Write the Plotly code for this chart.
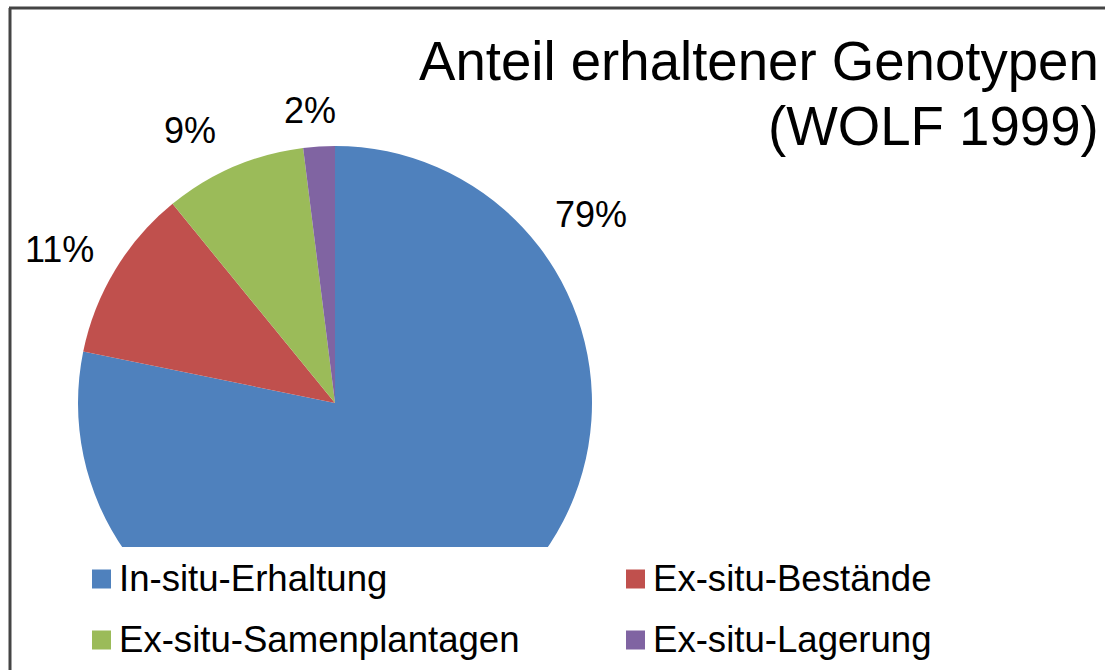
import plotly.graph_objects as go

W, H = 1105, 670

categories = ["In-situ-Erhaltung", "Ex-situ-Bestände", "Ex-situ-Samenplantagen", "Ex-situ-Lagerung"]
shares = [79, 11, 9, 2]
colors = ["#4F81BD", "#C0504D", "#9BBB59", "#8064A2"]
title_lines = ["Anteil erhaltener Genotypen", "(WOLF 1999)"]

FONT = "Liberation Sans, Arial, sans-serif"


def px(x):
    return x / W


def py(y):
    return 1 - y / H


fig = go.Figure()
fig.add_trace(go.Pie(
    labels=categories,
    values=shares,
    marker=dict(colors=colors, line=dict(width=0)),
    sort=False,
    direction="clockwise",
    rotation=0,
    textinfo="none",
    showlegend=False,
    hoverinfo="label+value",
    domain=dict(x=[px(78), px(592)], y=[py(660), py(146)]),
))

shapes = []
annotations = []

# white band hiding the lower part of the pie (legend area)
shapes.append(dict(type="rect", xref="paper", yref="paper", layer="above",
                   x0=0, x1=1, y0=0, y1=py(547),
                   fillcolor="white", line=dict(width=0)))
# frame (left and top edges)
shapes.append(dict(type="line", xref="paper", yref="paper", layer="above",
                   x0=px(10), x1=px(10), y0=0, y1=py(8),
                   line=dict(color="#444444", width=3)))
shapes.append(dict(type="line", xref="paper", yref="paper", layer="above",
                   x0=px(9), x1=1, y0=py(8), y1=py(8),
                   line=dict(color="#444444", width=3)))

# percentage labels
label_pos = [(591, 214), (59, 249), (190, 130), (310, 110)]
for v, (lx, ly) in zip(shares, label_pos):
    annotations.append(dict(xref="paper", yref="paper", x=px(lx), y=py(ly),
                            text=f"{v}%", showarrow=False,
                            xanchor="center", yanchor="middle",
                            font=dict(family=FONT, size=36, color="#000000")))

# title
title_pos = [62, 126]
for t, ty in zip(title_lines, title_pos):
    annotations.append(dict(xref="paper", yref="paper", x=px(1101), y=py(ty),
                            text=t, showarrow=False,
                            xanchor="right", yanchor="middle",
                            font=dict(family=FONT, size=54.6, color="#000000")))

# legend (two columns, two rows)
col_x = [92, 626]
row_y = [579, 640]
msize = 19
for i, (cat, col) in enumerate(zip(categories, colors)):
    r, c = divmod(i, 2)
    mx, my = col_x[c], row_y[r]
    shapes.append(dict(type="rect", xref="paper", yref="paper", layer="above",
                       x0=px(mx), x1=px(mx + msize),
                       y0=py(my + msize / 2), y1=py(my - msize / 2),
                       fillcolor=col, line=dict(width=0)))
    annotations.append(dict(xref="paper", yref="paper", x=px(mx + msize + 6), y=py(my - 1),
                            text=cat, showarrow=False,
                            xanchor="left", yanchor="middle",
                            font=dict(family=FONT, size=36.6, color="#000000")))

fig.update_layout(
    width=W, height=H,
    margin=dict(l=0, r=0, t=0, b=0),
    paper_bgcolor="white",
    plot_bgcolor="white",
    shapes=shapes,
    annotations=annotations,
)

fig.write_html("out.html", config={"displayModeBar": False},
               post_script="document.body.style.margin='0';")
